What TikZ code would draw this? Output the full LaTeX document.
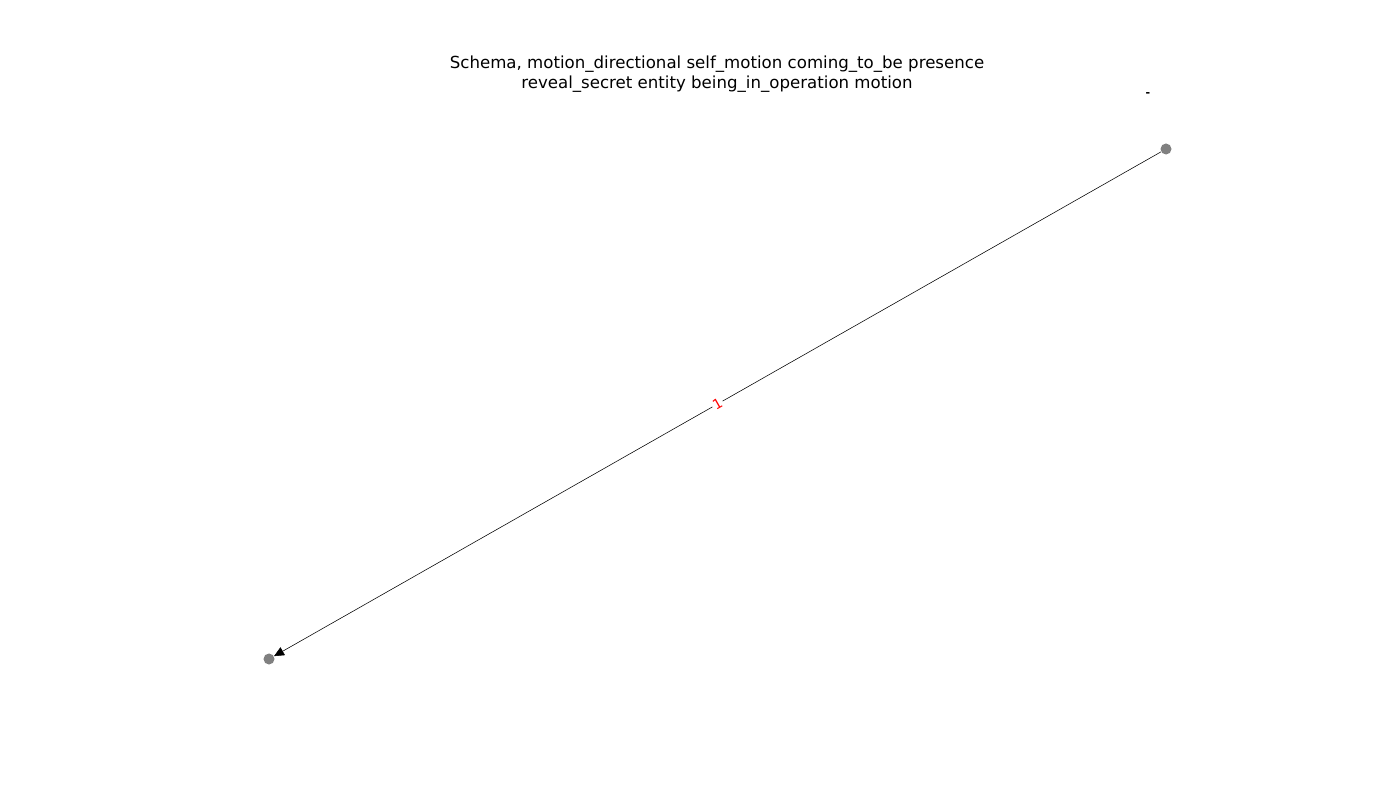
\documentclass[tikz,border=0pt]{standalone}
\usepackage{fontspec}
\setmainfont{DejaVu Sans}
\usetikzlibrary{arrows.meta}
\tikzset{vertex/.style={circle,fill=gray,inner sep=0pt,minimum size=0.11in}}

\begin{document}
\begin{tikzpicture}[x=0.01in,y=-0.01in,
        edgelabel/.style={text=red,fill=white,inner sep=1pt,font=\fontsize{10}{12}\selectfont}]
        \useasboundingbox (0,0) rectangle (1400,800);
        \node[align=center,font=\fontsize{12}{14.5}\selectfont] (title) at (717,74)
            {Schema, motion\_directional self\_motion coming\_to\_be presence\\reveal\_secret entity being\_in\_operation motion};
        \node[vertex] (frame) at (1166,149) {};
        \node[vertex] (target) at (269,659) {};
        \node[font=\bfseries\fontsize{8}{8}\selectfont,inner sep=0pt] (cut) at (1148,95) {-};
        \draw[line width=0.4pt,draw=black,-{Triangle[length=0.1in,width=0.09in]}] (frame) -- node[edgelabel,sloped] {1} (target);
    \end{tikzpicture}
\end{document}
